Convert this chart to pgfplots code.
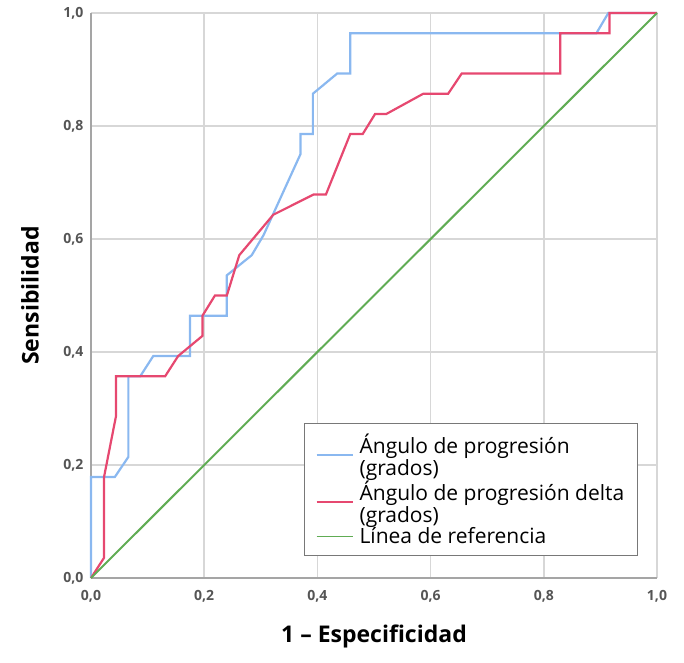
\documentclass[border=0pt]{standalone}
\usepackage{pgfplots}
\pgfplotsset{compat=1.18}
\usepackage{fontspec}
\setmainfont{Open Sans}
\definecolor{rocblue}{RGB}{138,184,240}
\definecolor{rocred}{RGB}{230,72,112}
\definecolor{rocgreen}{RGB}{96,172,84}
\definecolor{gridgray}{RGB}{215,215,215}
\definecolor{axgray}{RGB}{165,165,165}
\definecolor{ticktext}{RGB}{85,85,85}
\begin{document}
\begin{tikzpicture}
\path[use as bounding box] (-91pt,-84pt) rectangle (593pt,578pt);
\begin{axis}[
  scale only axis, width=566pt, height=565pt,
  xmin=0, xmax=1, ymin=0, ymax=1,
  axis lines=left, axis line style={axgray, line width=1.8pt, -},
  xtick={0,0.2,...,1}, ytick={0,0.2,...,1},
  major tick length=0pt,
  grid=major, major grid style={gridgray, line width=1.6pt},
  /pgf/number format/.cd, use comma, fixed, fixed zerofill, precision=1, assume math mode=true,
  /pgfplots/.cd,
  ticklabel style={font=\fontsize{14}{14}\selectfont\bfseries, text=ticktext},
  xticklabel style={yshift=-9pt},
  yticklabel style={xshift=-4pt},
  xlabel={1 -- Especificidad},
  ylabel={Sensibilidad},
  label style={font=\fontsize{23}{23}\selectfont\bfseries},
  xlabel style={at={(axis description cs:0.5,0)}, anchor=center, yshift=-58pt},
  ylabel style={at={(axis description cs:0,0.5)}, anchor=center, yshift=61pt},
  legend style={at={(rel axis cs:0.966,0.274)}, anchor=north east,
    draw={rgb,255:red,120;green,120;blue,120}, line width=1pt, fill=white,
    font=\fontsize{21}{22}\selectfont, inner xsep=11pt, inner ysep=8pt,
    column sep=4pt, cells={anchor=west, align=left}},
  legend image code/.code={\draw[#1, line width=1.8pt] (0pt,0pt) -- (36pt,0pt);},
  clip=false,
]
\addplot[rocblue, line width=2.2pt] coordinates {
(0,0) (0,0.1786) (0.042,0.1786) (0.066,0.2143) (0.066,0.3571) (0.087,0.3571)
(0.110,0.3929) (0.175,0.3929) (0.175,0.4643) (0.240,0.4643) (0.240,0.5357)
(0.284,0.5714) (0.305,0.6071) (0.370,0.7500) (0.370,0.7857) (0.392,0.7857)
(0.392,0.8571) (0.435,0.8929) (0.458,0.8929) (0.458,0.9643) (0.893,0.9643)
(0.914,1) (1,1)};
\addlegendentry{Ángulo de progresión\\(grados)}
\addplot[rocred, line width=2.2pt] coordinates {
(0,0) (0.023,0.0357) (0.023,0.1786) (0.044,0.2857) (0.044,0.3571) (0.131,0.3571)
(0.154,0.3929) (0.197,0.4286) (0.197,0.4643) (0.219,0.5) (0.240,0.5)
(0.262,0.5714) (0.322,0.6429) (0.393,0.6786) (0.415,0.6786) (0.458,0.7857)
(0.480,0.7857) (0.502,0.8214) (0.522,0.8214) (0.587,0.8571) (0.631,0.8571)
(0.655,0.8929) (0.829,0.8929) (0.829,0.9643) (0.916,0.9643) (0.916,1) (1,1)};
\addlegendentry{Ángulo de progresión delta\\(grados)}
\addplot[rocgreen, line width=2pt] coordinates {(0,0) (1,1)};
\addlegendentry{Línea de referencia}
\end{axis}
\end{tikzpicture}
\end{document}
